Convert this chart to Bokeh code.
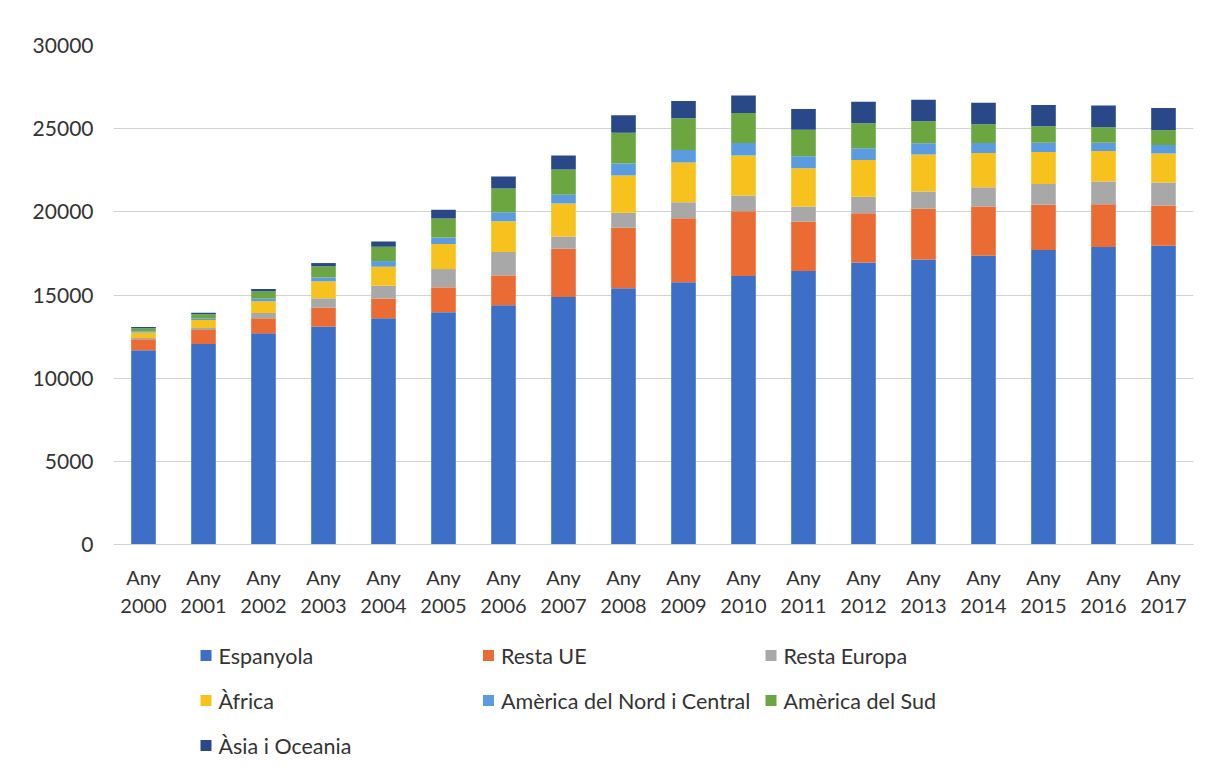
from bokeh.plotting import figure
from bokeh.layouts import column
from bokeh.models import ColumnDataSource, FactorRange, Range1d, SingleIntervalTicker
from bokeh.core.properties import value
from bokeh.embed import file_html
from bokeh.resources import INLINE

# Population by nationality, yearly totals
years = ["2000", "2001", "2002", "2003", "2004", "2005", "2006", "2007", "2008",
         "2009", "2010", "2011", "2012", "2013", "2014", "2015", "2016", "2017"]
categories = ["Any\n" + y for y in years]

espanyola = [11680, 12060, 12700, 13100, 13600, 13960, 14380, 14880, 15400,
             15760, 16140, 16440, 16960, 17140, 17360, 17700, 17880, 17960]
resta_ue = [660, 840, 900, 1140, 1180, 1500, 1800, 2900, 3640,
            3860, 3900, 2980, 2960, 3040, 2960, 2720, 2580, 2420]
resta_europa = [80, 120, 320, 560, 780, 1100, 1400, 740, 900,
                960, 940, 900, 980, 1040, 1160, 1260, 1360, 1380]
africa = [320, 480, 700, 1020, 1140, 1500, 1860, 1980, 2240,
          2380, 2400, 2300, 2220, 2220, 2060, 1920, 1840, 1740]
america_nord_central = [80, 80, 160, 240, 340, 400, 540, 520, 720,
                        760, 760, 720, 700, 680, 600, 560, 500, 520]
america_sud = [180, 260, 440, 660, 860, 1140, 1420, 1520, 1860,
               1900, 1800, 1600, 1500, 1320, 1120, 980, 920, 880]
asia_oceania = [80, 100, 140, 200, 320, 520, 720, 840, 1040,
                1040, 1060, 1240, 1300, 1300, 1300, 1280, 1320, 1340]

series_names = ["Espanyola", "Resta UE", "Resta Europa", "Àfrica",
                "Amèrica del Nord i Central", "Amèrica del Sud", "Àsia i Oceania"]
series_keys = ["esp", "ue", "eur", "afr", "anc", "asud", "asia"]
colors = ["#3d6fc6", "#ea6b33", "#a8a8a8", "#f7c11e", "#5b9be0", "#6ba641", "#284887"]

source = ColumnDataSource(dict(
    cat=categories, esp=espanyola, ue=resta_ue, eur=resta_europa, afr=africa,
    anc=america_nord_central, asud=america_sud, asia=asia_oceania,
))

FONT = "Lato"
TEXT = "#333333"
GRID = "#d3d3d3"
LEFT, RIGHT, WIDTH = 113, 21, 1214

# --- stacked bar chart -------------------------------------------------------
p = figure(x_range=FactorRange(*categories, range_padding=0),
           y_range=Range1d(0, 30000),
           width=WIDTH, height=620,
           min_border_left=LEFT, min_border_right=RIGHT,
           min_border_top=45, min_border_bottom=75,
           output_backend="svg", toolbar_location=None)

p.vbar_stack(series_keys, x="cat", width=0.41, source=source,
             color=colors, line_color=None)

p.outline_line_color = None
p.background_fill_color = "white"
p.border_fill_color = "white"

p.xgrid.grid_line_color = None
p.ygrid.grid_line_color = GRID
p.ygrid.grid_line_width = 1

p.yaxis.ticker = SingleIntervalTicker(interval=5000)
p.yaxis.axis_line_color = None
p.yaxis.major_tick_line_color = None
p.yaxis.minor_tick_line_color = None
p.yaxis.major_label_standoff = 14
p.yaxis.major_label_text_font = FONT
p.yaxis.major_label_text_font_size = "21px"
p.yaxis.major_label_text_color = TEXT

p.xaxis.axis_line_color = GRID
p.xaxis.major_tick_line_color = None
p.xaxis.minor_tick_line_color = None
p.xaxis.major_label_standoff = 14
p.xaxis.major_label_text_font = FONT
p.xaxis.major_label_text_font_size = "20px"
p.xaxis.major_label_text_color = TEXT
p.xaxis.major_label_text_line_height = 1.2

# --- legend strip: three columns, row-major order ---------------------------
LEG_H = 160
key = figure(width=WIDTH, height=LEG_H,
             x_range=Range1d(LEFT, WIDTH - RIGHT), y_range=Range1d(LEG_H, 0),
             x_axis_location=None, y_axis_location=None,
             min_border_left=LEFT, min_border_right=RIGHT,
             min_border_top=0, min_border_bottom=0,
             output_backend="svg", toolbar_location=None)
key.xgrid.grid_line_color = None
key.ygrid.grid_line_color = None
key.outline_line_color = None
key.background_fill_color = "white"
key.border_fill_color = "white"

col_left, col_pitch = 200, 282.5
row_top, row_pitch = 35, 45
swatch = 11
sx = [col_left + col_pitch * (i % 3) + swatch / 2 for i in range(len(series_names))]
sy = [row_top + row_pitch * (i // 3) for i in range(len(series_names))]
tx = [x + swatch / 2 + 7 for x in sx]

key_src = ColumnDataSource(dict(sx=sx, sy=sy, tx=tx, name=series_names, color=colors))
key.rect(x="sx", y="sy", width=swatch, height=swatch, fill_color="color",
         line_color=None, source=key_src)
key.text(x="tx", y="sy", text="name", source=key_src,
         text_baseline="middle", text_align="left",
         text_font=value(FONT), text_font_size="21.5px", text_color=TEXT)

layout = column(p, key, spacing=0)
open("out.html", "w").write(file_html(layout, INLINE))
